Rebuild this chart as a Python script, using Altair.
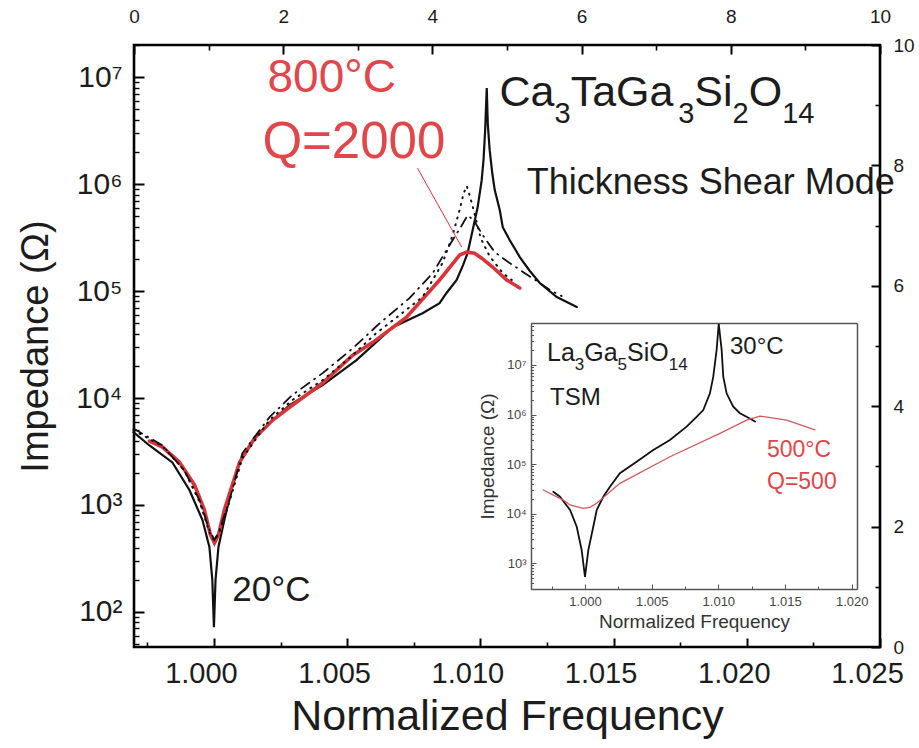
import altair as alt
import pandas as pd

# ---------------------------------------------------------------- data
# Main panel: Ca3TaGa3Si2O14, thickness shear mode (normalized frequency, impedance in ohm)
f_20C = [0.99698, 0.99758, 0.99844, 0.99908, 0.99957, 0.99983, 0.99994, 1.00000,
         1.00006, 1.00017, 1.00039, 1.00066, 1.00096, 1.00152, 1.00220, 1.00284,
         1.00408, 1.00535, 1.00671, 1.00783, 1.00847, 1.00873, 1.00911, 1.00935,
         1.00952, 1.00971, 1.00990, 1.01005, 1.01012, 1.01018, 1.01024, 1.01028,
         1.01035, 1.01045, 1.01054, 1.01073, 1.01084, 1.01110, 1.01148, 1.01185,
         1.01223, 1.01287, 1.01362]
z_20C = [4.8e3, 3.6e3, 2.5e3, 1.38e3, 724, 405, 199, 72,
         199, 405, 724, 1.38e3, 2.5e3, 4.2e3, 6.2e3, 8.6e3,
         1.32e4, 2.26e4, 4.6e4, 6.2e4, 7.7e4, 9.6e4, 1.27e5, 1.75e5,
         2.26e5, 3.7e5, 6.1e5, 1.09e6, 1.7e6, 3.2e6, 7.9e6, 3.6e6,
         2.08e6, 1.25e6, 8.8e5, 5.7e5, 3.96e5, 3.0e5, 2.08e5, 1.55e5,
         1.19e5, 8.8e4, 7.1e4]

f_800C = [0.99758, 0.99807, 0.99870, 0.99927, 0.99964, 0.99987, 1.00002, 1.00017,
          1.00039, 1.00096, 1.00152, 1.00220, 1.00284, 1.00408, 1.00520, 1.00595,
          1.00723, 1.00847, 1.00922, 1.00948, 1.00978, 1.01005, 1.01046, 1.01099,
          1.01148]
z_800C = [3.95e3, 3.48e3, 2.52e3, 1.54e3, 900, 525, 442, 525,
          900, 2.5e3, 4.2e3, 6.2e3, 8.2e3, 1.38e4, 2.5e4, 3.3e4,
          5.7e4, 1.27e5, 2.17e5, 2.31e5, 2.26e5, 2.03e5, 1.68e5, 1.27e5,
          1.07e5]

f_dash = [0.99698, 0.99807, 0.99889, 0.99946, 0.99983, 1.00002, 1.00021, 1.00058,
          1.00107, 1.00208, 1.00295, 1.00408, 1.00520, 1.00622, 1.00734, 1.00821,
          1.00896, 1.00930, 1.00952, 1.00975, 1.01009, 1.01054, 1.01110, 1.01167,
          1.01223, 1.01268, 1.01305]
z_dash = [5.2e3, 3.6e3, 2.1e3, 1.11e3, 584, 471, 584, 1.11e3,
          3.06e3, 6.6e3, 1.07e4, 1.71e4, 2.9e4, 5.0e4, 8.6e4, 1.47e5,
          3.0e5, 4.1e5, 5.1e5, 4.6e5, 3.33e5, 2.31e5, 1.83e5, 1.47e5,
          1.19e5, 1.0e5, 9.0e4]

f_dot = [0.99698, 0.99807, 0.99889, 0.99946, 0.99983, 1.00002, 1.00021, 1.00058,
         1.00107, 1.00208, 1.00295, 1.00408, 1.00509, 1.00610, 1.00697, 1.00783,
         1.00821, 1.00858, 1.00896, 1.00922, 1.00937, 1.00949, 1.00963, 1.00975,
         1.01001, 1.01035, 1.01084, 1.01118]
z_dot = [5.0e3, 3.55e3, 2.1e3, 1.07e3, 560, 461, 560, 1.07e3,
         2.75e3, 6.2e3, 9.6e3, 1.47e4, 2.37e4, 4.05e4, 5.97e4, 8.8e4,
         1.27e5, 1.83e5, 3.33e5, 5.7e5, 8.2e5, 9.6e5, 7.4e5, 5.7e5,
         3.13e5, 2.12e5, 1.47e5, 1.27e5]

# Inset: La3Ga5SiO14, TSM
f_30C = [0.99762, 0.99812, 0.99888, 0.99938, 0.99975, 1.00000, 1.00025, 1.00062,
         1.00088, 1.00137, 1.00187, 1.00262, 1.00387, 1.00512, 1.00637, 1.00762,
         1.00837, 1.00887, 1.00937, 1.00962, 1.00987, 1.01003, 1.01025, 1.01037,
         1.01062, 1.01112, 1.01162, 1.01212, 1.01275]
z_30C = [2.75e4, 2.18e4, 1.18e4, 5.4e3, 1.83e3, 528, 1.83e3, 5.4e3,
         1.18e4, 2.18e4, 3.47e4, 6.5e4, 1.11e5, 1.92e5, 3.05e5, 5.7e5,
         9.0e5, 1.23e6, 2.68e6, 5.8e6, 2.0e7, 6.8e7, 2.0e7, 5.8e6,
         2.68e6, 1.44e6, 1.06e6, 9.0e5, 7.2e5]

f_500C = [0.99687, 0.99837, 0.99888, 0.99987, 1.00037, 1.00088, 1.00262, 1.00637,
          1.01012, 1.01212, 1.01312, 1.01512, 1.01725]
z_500C = [2.99e4, 1.87e4, 1.49e4, 1.27e4, 1.33e4, 1.61e4, 4.07e4, 1.40e5,
          4.17e5, 7.7e5, 9.3e5, 7.7e5, 4.9e5]

# annotation pointer (800 C label -> red curve peak)
arrow_f = [1.00764, 1.00930]
arrow_z = [1.41e6, 2.58e5]

# chemical formulas: (text, is_subscript)
formula_main = [("Ca", False), ("3", True), ("TaGa", False), ("3", True),
                ("Si", False), ("2", True), ("O", False), ("14", True)]
formula_inset = [("La", False), ("3", True), ("Ga", False), ("5", True),
                 ("SiO", False), ("14", True)]

# tick values / labels
main_x_labels = [1.000, 1.005, 1.010, 1.015, 1.020, 1.025]
main_x_minor = [0.9975, 1.0025, 1.0075, 1.0125, 1.0175, 1.0225]
main_y_labels = [1e2, 1e3, 1e4, 1e5, 1e6, 1e7]
aux_labels = [0, 2, 4, 6, 8, 10]
aux_minor = [1, 3, 5, 7, 9]
inset_x_labels = [1.000, 1.005, 1.010, 1.015, 1.020]
inset_x_minor = [0.9975, 1.0025, 1.0075, 1.0125, 1.0175]
inset_y_labels = [1e3, 1e4, 1e5, 1e6, 1e7]

# ---------------------------------------------------------------- layout
W, H = 746, 602
MAIN_X = [0.997, 1.025]
MAIN_Y = [47, 2e7]
main_y_minor = [m * 10 ** e for e in range(1, 8) for m in range(2, 10)
                if MAIN_Y[0] <= m * 10 ** e <= MAIN_Y[1]]
INSET_X = [0.99595, 1.0204]
INSET_Y = [299, 7.05e7]
inset_y_minor = [m * 10 ** e for e in range(2, 8) for m in range(2, 10)
                 if INSET_Y[0] <= m * 10 ** e <= INSET_Y[1]]
INSET_L, INSET_R, INSET_T, INSET_B = 397, 723, 278, 544   # inside plot area

FONT = "Liberation Sans"
TXT = "#1c1c1c"
RED = "#d8343a"
RED_TXT = "#e0464a"
INSET_RED = "#cf5a5e"
GREY = "#555555"

SUP = ("['\u2070','\u00b9','\u00b2','\u00b3','\u2074','\u2075','\u2076','\u2077',"
       "'\u2078','\u2079'][round(log(datum.value)/LN10)]")


def sx_main():
    return alt.Scale(domain=MAIN_X, nice=False, zero=False)


def sy_main():
    return alt.Scale(type="log", domain=MAIN_Y, nice=False)


def sx_in():
    return alt.Scale(domain=INSET_X, range=[INSET_L, INSET_R], nice=False, zero=False)


def sy_in():
    return alt.Scale(type="log", domain=INSET_Y, range=[INSET_B, INSET_T], nice=False)


def s_aux():
    return alt.Scale(domain=[0, 10], nice=False, zero=False)


def tick_axis(orient, offset, values, size, color="black", width=2):
    return alt.Axis(orient=orient, offset=offset, values=values, labels=False,
                    domain=False, grid=False, ticks=True, tickColor=color,
                    tickWidth=width, tickSize=size, title=None)


def frame_axis(orient, offset, color=GREY, width=1.5):
    return alt.Axis(orient=orient, offset=offset, labels=False, ticks=False,
                    grid=False, domain=True, domainColor=color, domainWidth=width,
                    title=None)


def curve(f, z, color, width, dash=None, inset=False, x_axis=None, y_axis=None, opacity=1):
    df = pd.DataFrame({"f": f, "z": z})
    kw = dict(color=color, strokeWidth=width, opacity=opacity, strokeCap="round")
    if dash:
        kw["strokeDash"] = dash
    return alt.Chart(df).mark_line(**kw).encode(
        x=alt.X("f:Q", scale=sx_in() if inset else sx_main(), axis=x_axis),
        y=alt.Y("z:Q", scale=sy_in() if inset else sy_main(), axis=y_axis),
    )


def aux_layer(x_axis, y_axis):
    df = pd.DataFrame({"a": aux_labels, "b": aux_labels})
    return alt.Chart(df).mark_point(opacity=0).encode(
        x=alt.X("a:Q", scale=s_aux(), axis=x_axis),
        y=alt.Y("b:Q", scale=s_aux(), axis=y_axis))


def note(text, f, z, size, color, inset=False, dx=0, dy=0):
    df = pd.DataFrame({"f": [f], "z": [z], "t": [text]})
    return alt.Chart(df).mark_text(align="left", baseline="middle", font=FONT,
                                   fontSize=size, color=color, dx=dx, dy=dy).encode(
        x=alt.X("f:Q", scale=sx_in() if inset else sx_main(), axis=None),
        y=alt.Y("z:Q", scale=sy_in() if inset else sy_main(), axis=None),
        text="t:N",
    )


# Liberation Sans is metric compatible with Arial: advance widths (em) for layout of
# the subscripted formulas
ADV = {"C": 0.722, "a": 0.556, "T": 0.611, "G": 0.778, "S": 0.667, "i": 0.222,
       "O": 0.778, "L": 0.556, "0": 0.556, "1": 0.556, "2": 0.556, "3": 0.556,
       "4": 0.556, "5": 0.556}


def formula(parts, f, z, big, small, drop, inset=False):
    out, x = [], 0.0
    for txt, sub in parts:
        size = small if sub else big
        out.append(note(txt, f, z, size, TXT, inset=inset, dx=round(x, 1),
                        dy=drop if sub else 0))
        x += sum(ADV[c] for c in txt) * size
    return out


# ---------------------------------------------------------------- axes
ax_main_x = alt.Axis(orient="bottom", values=main_x_labels, format=".3f", ticks=False,
                     domain=False, grid=False, labelFont=FONT, labelFontSize=29,
                     labelColor=TXT, labelPadding=12, labelOffset=-13, labelFlush=False,
                     labelOverlap=False, title="Normalized Frequency", titleFont=FONT,
                     titleFontSize=43, titleFontWeight="normal", titleColor=TXT,
                     titlePadding=7)
ax_main_y = alt.Axis(orient="left", values=main_y_labels, labelExpr="'10' + " + SUP,
                     ticks=False, domain=False, grid=False, labelFont=FONT,
                     labelFontSize=30, labelColor=TXT, labelPadding=12,
                     labelFlush=False, labelOverlap=False, title="Impedance (\u03a9)",
                     titleFont=FONT, titleFontSize=38, titleFontWeight="normal",
                     titleColor=TXT, titlePadding=20)

ax_top = alt.Axis(orient="top", values=aux_labels, ticks=False, domain=False, grid=False,
                  labelFont=FONT, labelFontSize=19, labelColor=TXT, labelPadding=19,
                  labelFlush=False, labelOverlap=False, title=None)
ax_right = alt.Axis(orient="right", values=aux_labels, ticks=False, domain=False, grid=False,
                    labelFont=FONT, labelFontSize=19, labelColor=TXT, labelPadding=13,
                    labelFlush=False, labelOverlap=False, title=None)

ax_in_x = alt.Axis(orient="bottom", offset=-(H - INSET_B), values=inset_x_labels,
                   format=".3f", ticks=False, domain=True, domainColor=GREY,
                   domainWidth=1.5, grid=False, labelFont=FONT, labelFontSize=13,
                   labelColor="#444444", labelPadding=6, labelFlush=False,
                   labelOverlap=False, title="Normalized Frequency", titleFont=FONT,
                   titleFontSize=19, titleFontWeight="normal", titleColor="#333333",
                   titlePadding=4)
ax_in_y = alt.Axis(orient="left", offset=-INSET_L, values=inset_y_labels,
                   labelExpr="'10' + " + SUP, ticks=False, domain=True,
                   domainColor=GREY, domainWidth=1.5, grid=False, labelFont=FONT,
                   labelFontSize=13, labelColor="#444444", labelPadding=5,
                   labelFlush=False, labelOverlap=False, title="Impedance (\u03a9)",
                   titleFont=FONT, titleFontSize=19, titleFontWeight="normal",
                   titleColor="#333333", titlePadding=8)

# ---------------------------------------------------------------- layers
layers = [
    # inward ticks of the main frame (major, then minor)
    curve(f_20C, z_20C, "black", 1, opacity=0,
          x_axis=tick_axis("top", -H, main_x_labels, 9),
          y_axis=tick_axis("right", -W, main_y_labels, 10)),
    curve(f_20C, z_20C, "black", 1, opacity=0,
          x_axis=tick_axis("top", -H, main_x_minor, 5, width=1.6),
          y_axis=tick_axis("right", -W, main_y_minor, 5, width=1.4)),
    # secondary 0-10 axes (top / right): labels, then inward ticks
    aux_layer(ax_top, ax_right),
    aux_layer(tick_axis("bottom", -H, aux_labels, 9), tick_axis("left", -W, aux_labels, 9)),
    aux_layer(tick_axis("bottom", -H, aux_minor, 5, width=1.6),
              tick_axis("left", -W, aux_minor, 5, width=1.6)),
    # main curves (first one carries the labelled axes)
    curve(f_20C, z_20C, "#111111", 2.2, x_axis=ax_main_x, y_axis=ax_main_y),
    curve(f_800C, z_800C, RED, 3.6),
    curve(f_dot, z_dot, "#111111", 2.0, dash=[1, 6]),
    curve(f_dash, z_dash, "#111111", 1.8, dash=[10, 6, 1, 6]),
    # inset
    curve(f_30C, z_30C, "#111111", 1.8, inset=True, x_axis=ax_in_x, y_axis=ax_in_y),
    curve(f_500C, z_500C, INSET_RED, 1.3, inset=True),
    curve(f_30C, z_30C, "black", 1, inset=True, opacity=0,
          x_axis=tick_axis("top", -INSET_B, inset_x_labels, 5, color=GREY, width=1),
          y_axis=tick_axis("right", -(W - INSET_L), inset_y_labels, 5, color=GREY, width=1)),
    curve(f_30C, z_30C, "black", 1, inset=True, opacity=0,
          x_axis=tick_axis("top", -INSET_B, inset_x_minor, 3, color=GREY, width=1),
          y_axis=tick_axis("right", -(W - INSET_L), inset_y_minor, 2.5, color=GREY, width=1)),
    curve(f_30C, z_30C, "black", 1, inset=True, opacity=0,
          x_axis=frame_axis("top", -INSET_T),
          y_axis=frame_axis("right", -(W - INSET_R))),
    # pointer line
    alt.Chart(pd.DataFrame({"f": [arrow_f[0]], "f2": [arrow_f[1]],
                            "z": [arrow_z[0]], "z2": [arrow_z[1]]}))
    .mark_rule(color=RED, strokeWidth=1)
    .encode(x=alt.X("f:Q", scale=sx_main(), axis=None), x2="f2:Q",
            y=alt.Y("z:Q", scale=sy_main(), axis=None), y2="z2:Q"),
    # annotations
    note("800\u00b0C", 1.00201, 9.8e6, 46, RED_TXT),
    note("Q=2000", 1.00182, 2.42e6, 51, RED_TXT),
    note("Thickness Shear Mode", 1.01174, 1.02e6, 36, TXT),
    note("20\u00b0C", 1.00069, 161, 35, TXT),
    note("TSM", 0.99738, 2.15e6, 24, TXT, inset=True),
    note("30\u00b0C", 1.01087, 2.3e7, 24, TXT, inset=True),
    note("500\u00b0C", 1.01365, 1.92e5, 23, RED_TXT, inset=True),
    note("Q=500", 1.01365, 4.3e4, 23, RED_TXT, inset=True),
]
layers += formula(formula_main, 1.01072, 7.1e6, 43, 29, 21)
layers += formula(formula_inset, 0.99715, 1.75e7, 25, 17, 12, inset=True)

chart = (
    alt.layer(*layers)
    .resolve_scale(x="independent", y="independent")
    .resolve_axis(x="independent", y="independent")
    .properties(width=W, height=H, background="white",
                autosize=alt.AutoSizeParams(type="none"),
                padding={"left": 134, "top": 45, "right": 39, "bottom": 101})
    .configure_view(stroke="black", strokeWidth=2.6)
)

chart.save("out.html", embed_options={"renderer": "svg", "actions": False})
